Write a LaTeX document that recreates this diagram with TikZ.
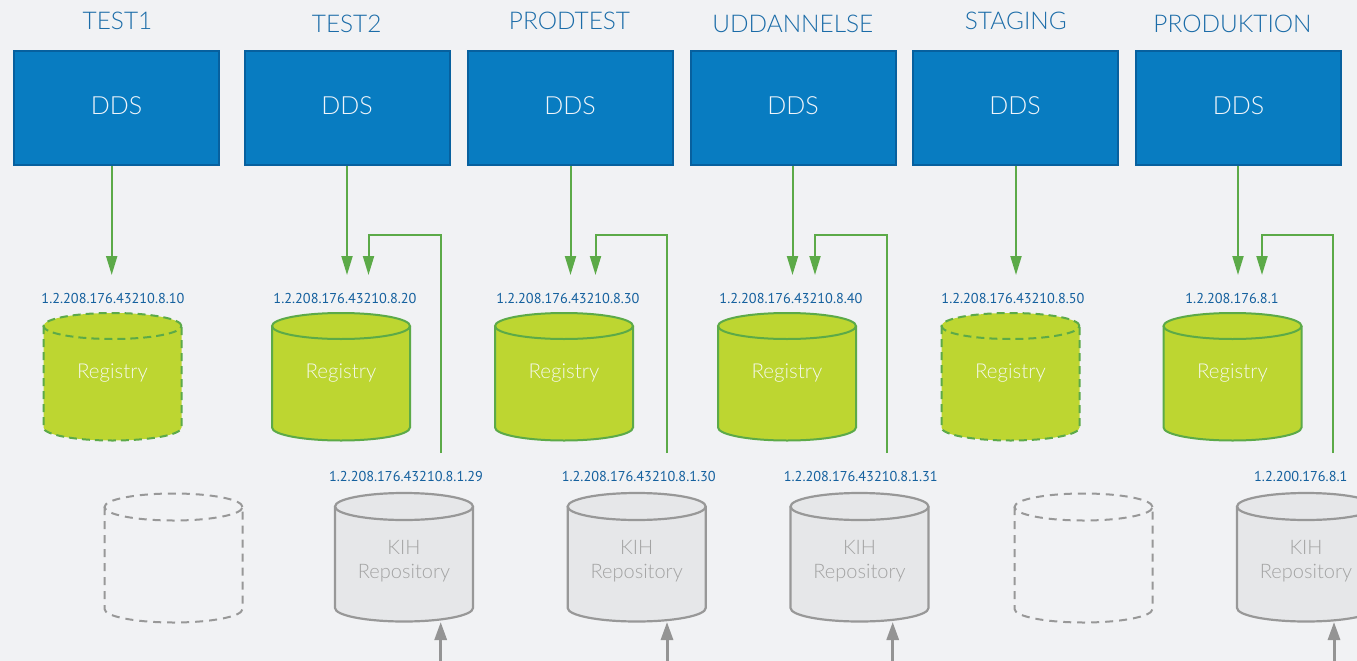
\documentclass[tikz,border=0pt]{standalone}
\usepackage{fontspec}
\setmainfont{Lato Light}
\newfontfamily\lblfont{PT Sans}
\usetikzlibrary{arrows.meta}
\definecolor{bg}{RGB}{241,242,244}
\definecolor{titleblue}{RGB}{27,108,168}
\definecolor{lblblue}{RGB}{20,96,158}
\definecolor{ddsblue}{RGB}{8,124,193}
\definecolor{ddsborder}{RGB}{7,96,158}
\definecolor{lgreen}{RGB}{92,170,72}
\definecolor{regfill}{RGB}{189,214,49}
\definecolor{kihfill}{RGB}{230,231,233}
\definecolor{kihborder}{RGB}{152,152,152}
\definecolor{kihtextgray}{RGB}{163,163,163}
\definecolor{arrowgray}{RGB}{148,148,148}
% #1 fill opts, #2 draw opts, #3 cx, #4 top-centre y, #5 bottom-centre y, #6 rx, #7 ry
\newcommand\drawcyl[7]{%
  \path[#1] ({#3-#6},#4) -- ({#3-#6},#5)
    arc[start angle=180,end angle=360,x radius=#6pt,y radius=#7pt] -- ({#3+#6},#4)
    arc[start angle=0,end angle=180,x radius=#6pt,y radius=#7pt] -- cycle;
  \path[#2] ({#3-#6},#4) -- ({#3-#6},#5)
    arc[start angle=180,end angle=360,x radius=#6pt,y radius=#7pt] -- ({#3+#6},#4);
  \path[#2] (#3,#4) ellipse[x radius=#6pt,y radius=#7pt];
}
\tikzset{
  title/.style={text=titleblue,font=\fontsize{24.4}{28}\selectfont,anchor=base,inner sep=0pt},
  ddsbox/.style={draw=ddsborder,fill=ddsblue,line width=2pt,minimum width=205pt,minimum height=114pt,inner sep=0pt,text depth=4pt,text={rgb,255:red,240;green,245;blue,250},font=\fontsize{25}{30}\selectfont},
  lbl/.style={text=lblblue,font=\lblfont\fontsize{14.3}{18}\selectfont,anchor=base,inner sep=0pt},
  regtext/.style={text={rgb,255:red,245;green,248;blue,235},font=\fontsize{20.5}{24}\selectfont,anchor=base,inner sep=0pt},
  kihtext/.style={text=kihtextgray,font=\fontsize{20}{24}\selectfont,align=center,inner sep=0pt},
  gline/.style={draw=lgreen,line width=2pt},
  garrow/.style={gline,-{Triangle[length=19pt,width=11pt]}},
  grayarrow/.style={draw=arrowgray,line width=3pt,-{Triangle[length=18pt,width=12pt]}},
  regfillst/.style={fill=regfill},
  regline/.style={draw=lgreen,line width=2pt},
  regdash/.style={draw=lgreen,line width=2pt,dash pattern=on 8pt off 5pt},
  kihfillst/.style={fill=kihfill},
  kihline/.style={draw=kihborder,line width=2.2pt},
  emptydash/.style={draw=kihborder,line width=2pt,dash pattern=on 8pt off 6pt},
}
\begin{document}
\begin{tikzpicture}[x=1pt,y=-1pt]
\clip (0,0) rectangle (1357,661);
\fill[bg] (0,0) rectangle (1357,661);

% titles
\node[title] (t1) at (117.5,29.5) {TEST1};
\node[title] (t2) at (346.7,32.5) {TEST2};
\node[title] (t3) at (569.5,29.5) {PRODTEST};
\node[title] (t4) at (792.8,32.5) {UDDANNELSE};
\node[title] (t5) at (1015.8,29.5) {STAGING};
\node[title] (t6) at (1232.5,32.5) {PRODUKTION};

% DDS boxes
\node[ddsbox] (d1) at (116.5,108) {DDS};
\node[ddsbox] (d2) at (347,108) {DDS};
\node[ddsbox] (d3) at (570,108) {DDS};
\node[ddsbox] (d4) at (793,108) {DDS};
\node[ddsbox] (d5) at (1015,108) {DDS};
\node[ddsbox] (d6) at (1238.5,108) {DDS};

% registry cylinders
\drawcyl{regfillst}{regdash}{112.5}{326}{427.5}{69}{13}
\drawcyl{regfillst}{regline}{341}{326}{427.5}{69}{13}
\drawcyl{regfillst}{regline}{564}{326}{427.5}{69}{13}
\drawcyl{regfillst}{regline}{787}{326}{427.5}{69}{13}
\drawcyl{regfillst}{regdash}{1010.5}{326}{427.5}{69}{13}
\drawcyl{regfillst}{regline}{1232.5}{326}{427.5}{69}{13}

\node[regtext] (r1) at (112.5,378) {Registry};
\node[regtext] (r2) at (341,378) {Registry};
\node[regtext] (r3) at (564,378) {Registry};
\node[regtext] (r4) at (787,378) {Registry};
\node[regtext] (r5) at (1010.5,378) {Registry};
\node[regtext] (r6) at (1232.5,378) {Registry};

% registry labels
\node[lbl] (l1) at (113,303) {1.2.208.176.43210.8.10};
\node[lbl] (l2) at (345,303) {1.2.208.176.43210.8.20};
\node[lbl] (l3) at (568,303) {1.2.208.176.43210.8.30};
\node[lbl] (l4) at (791,303) {1.2.208.176.43210.8.40};
\node[lbl] (l5) at (1013,303) {1.2.208.176.43210.8.50};
\node[lbl] (l6) at (1232,303) {1.2.208.176.8.1};

% empty dashed cylinders
\drawcyl{fill=none}{emptydash}{173.5}{507}{609}{69}{13.5}
\drawcyl{fill=none}{emptydash}{1083.5}{507}{609}{69}{13.5}

% KIH repositories
\drawcyl{kihfillst}{kihline}{404}{506.5}{608}{69}{13.5}
\drawcyl{kihfillst}{kihline}{636.7}{506.5}{608}{69}{13.5}
\drawcyl{kihfillst}{kihline}{859.5}{506.5}{608}{69}{13.5}
\drawcyl{kihfillst}{kihline}{1306}{506.5}{608}{69}{13.5}

\node[kihtext] (k2) at (404,561) {KIH\\Repository};
\node[kihtext] (k3) at (636.7,561) {KIH\\Repository};
\node[kihtext] (k4) at (859.5,561) {KIH\\Repository};
\node[kihtext] (k6) at (1306,561) {KIH\\Repository};

\node[lbl] (kl2) at (406,481.5) {1.2.208.176.43210.8.1.29};
\node[lbl] (kl3) at (638.8,481.5) {1.2.208.176.43210.8.1.30};
\node[lbl] (kl4) at (860.8,481.5) {1.2.208.176.43210.8.1.31};
\node[lbl] (kl6) at (1300.8,481) {1.2.200.176.8.1};

% coordinates for connectors
\coordinate (rin1) at (111.7,275);
\coordinate (rin2) at (347,275);
\coordinate (rin3) at (570.5,275);
\coordinate (rin4) at (792.5,275);
\coordinate (rin5) at (1016,275);
\coordinate (rin6) at (1238,275);

\coordinate (rback2) at (368.5,275);
\coordinate (rback3) at (595.5,275);
\coordinate (rback4) at (815,275);
\coordinate (rback6) at (1262,275);

\coordinate (kout2) at (440.7,453);
\coordinate (kout3) at (667,453);
\coordinate (kout4) at (887,453);
\coordinate (kout6) at (1333,453);

\coordinate (kturn2) at (440.7,235);
\coordinate (kturn3) at (667,235);
\coordinate (kturn4) at (887,235);
\coordinate (kturn6) at (1333,235);

\coordinate (ksrc2) at (440.7,661);
\coordinate (ksrc3) at (667,661);
\coordinate (ksrc4) at (892.7,661);
\coordinate (ksrc6) at (1334,661);
\coordinate (kin2) at (440.7,622);
\coordinate (kin3) at (667,622);
\coordinate (kin4) at (892.7,622);
\coordinate (kin6) at (1334,622);

% DDS -> registry
\foreach \i in {1,...,6} {
  \draw[garrow] (d\i.south -| rin\i) -- (rin\i);
}
% KIH -> registry
\foreach \i in {2,3,4,6} {
  \draw[garrow] (kout\i) -- (kturn\i) -| (rback\i);
  \draw[grayarrow] (ksrc\i) -- (kin\i);
}
\end{tikzpicture}
\end{document}
